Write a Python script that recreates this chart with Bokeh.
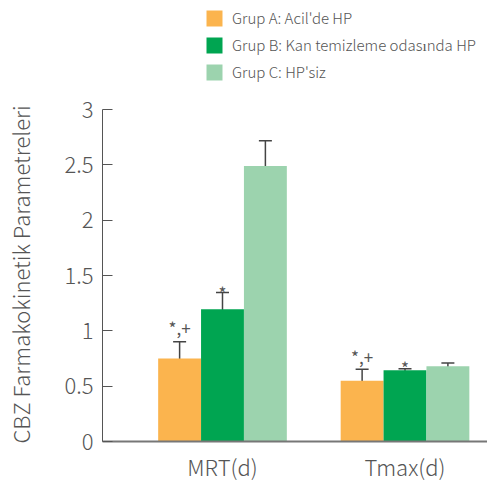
from bokeh.plotting import figure
from bokeh.models import (ColumnDataSource, Range1d, FixedTicker, Legend, LegendItem,
                          Whisker, TeeHead)
from bokeh.transform import dodge
from bokeh.core.properties import value
from bokeh.embed import file_html
from bokeh.resources import INLINE

# ---- data ----
categories = ["MRT(d)", "Tmax(d)"]
groups = ["Grup A: Acil'de HP", "Grup B: Kan temizleme odasında HP", "Grup C: HP'siz"]
mean_a = [0.75, 0.55]
mean_b = [1.195, 0.643]
mean_c = [2.49, 0.679]
upper_a = [0.902, 0.652]
lower_a = [0.595, 0.452]
upper_b = [1.346, 0.658]
lower_b = [1.002, 0.622]
upper_c = [2.718, 0.709]
lower_c = [2.265, 0.643]
mark_a = ["*,+", "*,+"]
mark_a_y = [1.03, 0.768]
mark_b = ["*", "*"]
mark_b_y = [1.345, 0.669]
y_ticks = [0, 0.5, 1, 1.5, 2, 2.5, 3]
y_tick_labels = ["0", "0.5", "1", "1.5", "2", "2.5", "3"]
y_title = "CBZ Farmakokinetik Parametreleri"

colors = ["#FBB44E", "#00A551", "#9CD3AE"]
FONT = "Noto Sans CJK JP Light"
MFONT = "Noto Sans CJK JP"
TXT = "#555555"

bw = 0.235
offsets = [-bw, 0.0, bw]

p = figure(frame_width=385, frame_height=441, output_backend="svg", toolbar_location=None,
           x_range=Range1d(-0.6575, 1.452), y_range=Range1d(0, 3.985),
           min_border_left=102, min_border_top=0, min_border_bottom=31,
           min_border_right=0)
p.outline_line_color = None
p.grid.visible = False
p.background_fill_color = "white"

idx = list(range(len(categories)))
series = [(mean_a, upper_a, lower_a), (mean_b, upper_b, lower_b), (mean_c, upper_c, lower_c)]
items = []
for k, (m, up, lo) in enumerate(series):
    src = ColumnDataSource(dict(x=idx, top=m, upper=up, lower=lo))
    r = p.vbar(x=dodge("x", offsets[k]), top="top", width=bw, source=src,
               fill_color=colors[k], line_color=None)
    items.append(LegendItem(label=groups[k], renderers=[r]))
    wh = Whisker(base=dodge("x", offsets[k]), upper="upper", lower="lower", source=src,
                 line_color="#444444", line_width=1.5,
                 upper_head=TeeHead(size=13, line_color="#444444", line_width=1.5),
                 lower_head=TeeHead(size=13, line_color="#444444", line_width=1.5))
    p.add_layout(wh)

src_ma = ColumnDataSource(dict(x=idx, y=mark_a_y, t=mark_a))
p.text(x=dodge("x", offsets[0]), y="y", text="t", source=src_ma, text_align="center",
       text_baseline="alphabetic", text_font=value(MFONT), text_font_size="17px",
       text_color=TXT)
src_mb = ColumnDataSource(dict(x=idx, y=mark_b_y, t=mark_b))
p.text(x=dodge("x", offsets[1]), y="y", text="t", source=src_mb, text_align="center",
       text_baseline="alphabetic", text_font=value(MFONT), text_font_size="17px",
       text_color=TXT)

legend = Legend(items=items, location=(102, 359), orientation="vertical",
                glyph_width=20, glyph_height=20, label_height=20, spacing=6,
                label_standoff=8, padding=0, margin=0, border_line_color=None,
                background_fill_alpha=0, label_text_font=FONT,
                label_text_font_size="15px", label_text_color=TXT)
p.add_layout(legend, "center")

xa = p.xaxis[0]
xa.ticker = FixedTicker(ticks=idx)
xa.major_label_overrides = {i: c for i, c in zip(idx, categories)}
xa.major_tick_in = 0
xa.major_tick_out = 0
xa.minor_tick_in = 0
xa.minor_tick_out = 0
xa.axis_line_color = "#777777"
xa.axis_line_width = 2
xa.major_label_text_font = FONT
xa.major_label_text_font_size = "22px"
xa.major_label_text_color = TXT
xa.major_label_standoff = 8

ya = p.yaxis[0]
ya.bounds = (0, 3)
ya.ticker = FixedTicker(ticks=y_ticks)
ya.major_label_overrides = {t: l for t, l in zip(y_ticks, y_tick_labels)}
ya.major_tick_in = 10
ya.major_tick_out = 0
ya.minor_tick_in = 0
ya.minor_tick_out = 0
ya.axis_line_color = "#555555"
ya.major_tick_line_color = "#555555"
ya.major_label_text_font = FONT
ya.major_label_text_font_size = "22px"
ya.major_label_text_color = TXT
ya.major_label_standoff = 9
# trailing non-breaking spaces centre the visible title on the 0..3 axis span
ya.axis_label = y_title + "\u00a0" * 22
ya.axis_label_text_font = FONT
ya.axis_label_text_font_size = "22px"
ya.axis_label_text_font_style = "normal"
ya.axis_label_text_color = TXT
ya.axis_label_standoff = 25

open("out.html", "w").write(file_html(p, INLINE))
